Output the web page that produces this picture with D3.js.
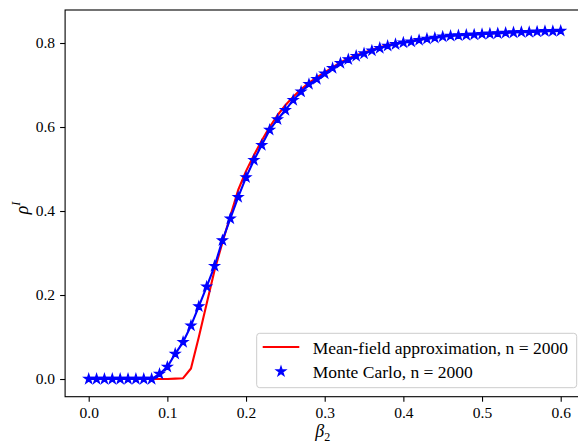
<!DOCTYPE html>
<html><head><meta charset="utf-8">
<script src="https://cdn.jsdelivr.net/npm/d3@7"></script>
<style>
body{margin:0;background:#fff}
svg{display:block}
</style></head>
<body><svg id="c" width="578" height="446"></svg>
<script>
const beta = d3.range(61).map(i => +(i*0.01).toFixed(2));
const monteCarlo = [0,0,0,0,0,0,0,0,0,0.012,0.029,0.06,0.088,0.127,0.173,0.22,0.269,0.33,0.382,0.433,0.48,0.521,0.557,0.593,0.618,0.64,0.664,0.684,0.702,0.714,0.727,0.740,0.752,0.761,0.769,0.775,0.782,0.788,0.793,0.797,0.801,0.803,0.807,0.810,0.812,0.815,0.817,0.818,0.819,0.820,0.821,0.822,0.823,0.824,0.825,0.826,0.826,0.827,0.828,0.828,0.829];
const meanField = [0,0,0,0,0,0,0,0,0,0,0,0.001,0.002,0.025,0.100,0.180,0.259,0.325,0.388,0.45,0.495,0.533,0.568,0.600,0.628,0.652,0.672,0.690,0.705,0.718,0.730,0.742,0.754,0.763,0.771,0.777,0.784,0.790,0.795,0.799,0.802,0.805,0.808,0.811,0.813,0.816,0.818,0.819,0.820,0.821,0.822,0.823,0.824,0.825,0.826,0.827,0.827,0.828,0.829,0.829,0.830];
const xTicks = [0,0.1,0.2,0.3,0.4,0.5,0.6];
const yTicks = [0,0.2,0.4,0.6,0.8];
const legendLabels = ["Mean-field approximation, n = 2000","Monte Carlo, n = 2000"];

const FONT = '"Liberation Serif"';
const svg = d3.select("#c");
const L=65.1, R=584.3, T=10, B=396.7;
const x = d3.scaleLinear().domain([-0.03,0.63]).range([L,R]);
const y = d3.scaleLinear().domain([-0.0421,0.8786]).range([B,T]);

function starPath(r){
  const ri=r*0.381966; let p=[];
  for(let k=0;k<10;k++){const a=-Math.PI/2+k*Math.PI/5; const rr=k%2?ri:r; p.push([rr*Math.cos(a),rr*Math.sin(a)]);}
  return "M"+p.map(q=>q[0].toFixed(2)+","+q[1].toFixed(2)).join("L")+"Z";
}

const plot = svg.append("g");
plot.append("defs").append("clipPath").attr("id","clip").append("rect").attr("x",L).attr("y",T).attr("width",R-L).attr("height",B-T);
const g = plot.append("g").attr("clip-path","url(#clip)");
const line = d3.line().x((d,i)=>x(beta[i])).y(d=>y(d));
g.append("path").datum(meanField).attr("d",line).attr("fill","none").attr("stroke","#ff0000").attr("stroke-width",2.1).attr("stroke-linejoin","round");
g.append("path").datum(monteCarlo).attr("d",line).attr("fill","none").attr("stroke","#0000ff").attr("stroke-width",2.1).attr("stroke-linejoin","round");
g.selectAll(".st").data(monteCarlo).join("path").attr("class","st")
  .attr("transform",(d,i)=>`translate(${x(beta[i])},${y(d)})`)
  .attr("d",starPath(5)).attr("fill","#0000ff").attr("stroke","#0000ff").attr("stroke-width",1.2).attr("stroke-linejoin","miter");

// axes
const xAxis = d3.axisBottom(x).tickValues(xTicks).tickFormat(d3.format(".1f")).tickSize(5).tickPadding(5);
const yAxis = d3.axisLeft(y).tickValues(yTicks).tickFormat(d3.format(".1f")).tickSize(5).tickPadding(5);
const gx = svg.append("g").attr("transform",`translate(0,${B})`).call(xAxis);
const gy = svg.append("g").attr("transform",`translate(${L},0)`).call(yAxis);
[gx,gy].forEach(a=>{a.attr("font-family",null).attr("font-size",null);
  a.select(".domain").remove(); a.selectAll("line").attr("stroke","#000").attr("stroke-width",1.1);
  a.selectAll("text").style("font-size","15.5px").style("font-family",FONT).attr("fill","#000");});
// spines
svg.append("rect").attr("x",L).attr("y",T).attr("width",R-L).attr("height",B-T).attr("fill","none").attr("stroke","#000").attr("stroke-width",1.1);

// labels
svg.append("text").attr("x",(L+R)/2-2).attr("y",437).attr("text-anchor","middle").style("font-size","18px").style("font-family",FONT)
  .html('<tspan font-style="italic">β</tspan><tspan font-size="12px" dy="4">2</tspan>');
svg.append("text").attr("transform","translate(28,208) rotate(-90)").attr("text-anchor","middle").style("font-size","18px").style("font-family",FONT)
  .html('<tspan font-style="italic">ρ</tspan><tspan font-size="12px" font-style="italic" dy="-8">I</tspan>');

// legend
const lg = svg.append("g");
lg.append("rect").attr("x",256.7).attr("y",333.3).attr("width",320).attr("height",54.4).attr("rx",3)
  .attr("fill","#fff").attr("fill-opacity",0.8).attr("stroke","#cccccc").attr("stroke-width",1);
lg.append("line").attr("x1",262.7).attr("x2",299.3).attr("y1",347).attr("y2",347).attr("stroke","#ff0000").attr("stroke-width",2.1);
lg.append("path").attr("transform","translate(281,371.5)").attr("d",starPath(5)).attr("fill","#0000ff").attr("stroke","#0000ff").attr("stroke-width",1.2);
lg.selectAll(".lt").data(legendLabels).join("text").attr("class","lt").attr("x",312.7).attr("y",(d,i)=>353.5+i*24.4)
  .style("font-size","17.5px").style("font-family",FONT).attr("fill","#000").text(d=>d);
</script></body></html>
